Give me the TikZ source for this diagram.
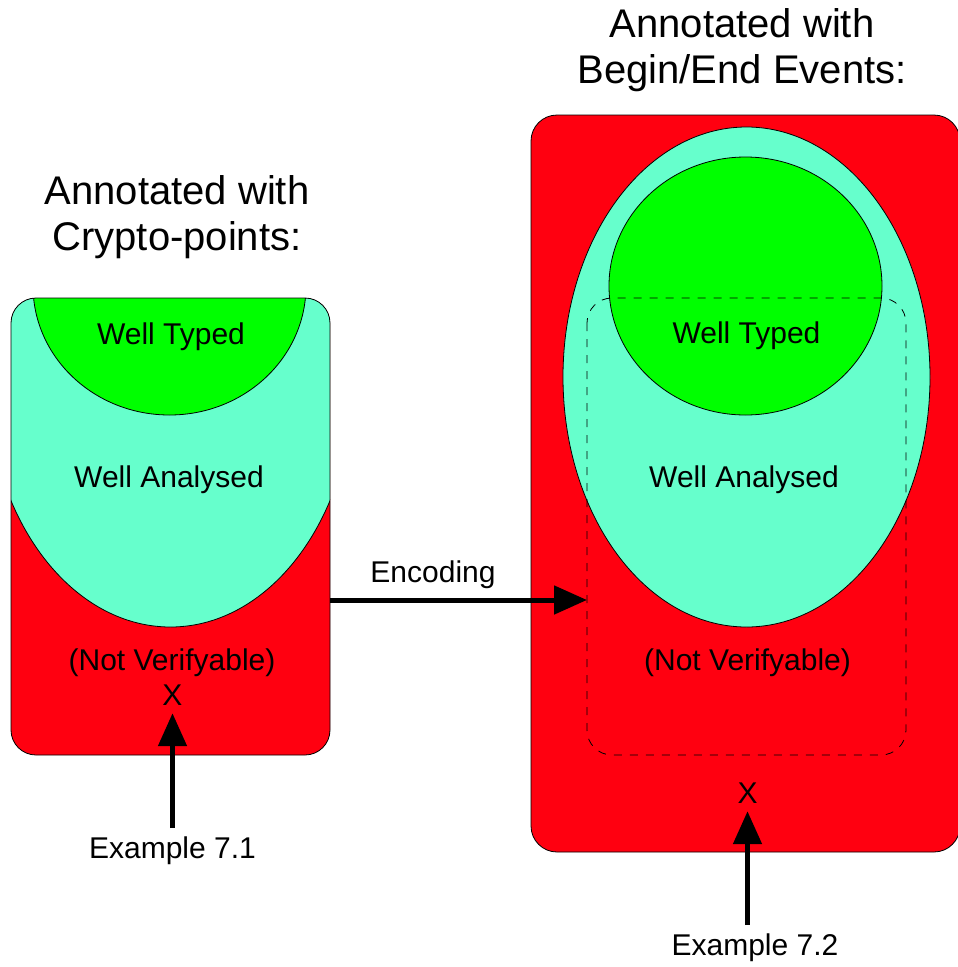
\documentclass[tikz,border=0pt]{standalone}
\usepackage{fontspec}
\setmainfont{Liberation Sans}
\usetikzlibrary{arrows.meta}
\definecolor{notver}{RGB}{255,0,16}
\definecolor{analysed}{RGB}{102,255,204}
\definecolor{typed}{RGB}{0,255,0}
\begin{document}
\begin{tikzpicture}[x=1pt,y=-1pt,
  outline/.style={draw=black, line width=0.8pt},
  region/.style={rounded corners=25pt},
  lbl/.style={font=\fontsize{30}{36}\selectfont, anchor=base, inner sep=0pt},
  pointlbl/.style={font=\fontsize{30}{36}\selectfont, anchor=base, inner sep=8pt},
  ttl/.style={font=\fontsize{40}{46}\selectfont, align=center, anchor=base, inner sep=0pt},
  bigarrow/.style={line width=5pt, -{Triangle[length=33pt,width=28pt]}},
]
\useasboundingbox (0,0) rectangle (958,967);

% ---- right panel: begin/end events ----
\draw[outline, fill=notver, rounded corners=26pt] (531,115) rectangle (960,852);
\draw[outline, fill=analysed] (746.5,377) ellipse [x radius=183.5pt, y radius=250pt];
\draw[outline, fill=typed] (745.5,286) ellipse [x radius=136.5pt, y radius=129pt];
\draw[draw=black, line width=0.8pt, dash pattern=on 8pt off 8pt, region]
  (587,298) rectangle (906,755);

% ---- left panel: crypto-points (same regions, cut to the inner frame) ----
\begin{scope}
  \clip[region] (11,298) rectangle (330,755);
  \fill[notver] (0,250) rectangle (400,800);
  \draw[outline, fill=analysed] (170.5,377) ellipse [x radius=183.5pt, y radius=250pt];
  \draw[outline, fill=typed] (169.5,286) ellipse [x radius=136.5pt, y radius=129pt];
\end{scope}
\draw[outline, region] (11,298) rectangle (330,755);

% ---- titles (base anchor sits on the last line) ----
\node[ttl] (titleL) at (177,250.5) {Annotated with\\Crypto-points:};
\node[ttl] (titleR) at (742,83) {Annotated with\\Begin/End Events:};

% ---- region labels ----
\node[lbl] (typedL) at (171,344) {Well Typed};
\node[lbl] (analysedL) at (169,487) {Well Analysed};
\node[lbl] (notverL) at (172,670) {(Not Verifyable)};
\node[lbl] (typedR) at (746.5,343) {Well Typed};
\node[lbl] (analysedR) at (744,487) {Well Analysed};
\node[lbl] (notverR) at (747.5,670) {(Not Verifyable)};

% ---- examples ----
\node[pointlbl] (x1) at (172.5,705) {X};
\node[pointlbl] (x2) at (747.5,803) {X};
\node[pointlbl] (ex1) at (172.5,858) {Example 7.1};
\node[pointlbl] (ex2) at (755,955) {Example 7.2};
\draw[bigarrow] (x1 |- ex1.north) -- (x1.south);
\draw[bigarrow] (x2 |- ex2.north) -- (x2.south);

% ---- encoding ----
\coordinate (encFrom) at (330,600);
\coordinate (encTo) at (587,600);
\draw[bigarrow] (encFrom) -- (encTo);
\node[lbl] (enc) at (433,582) {Encoding};
\end{tikzpicture}
\end{document}
